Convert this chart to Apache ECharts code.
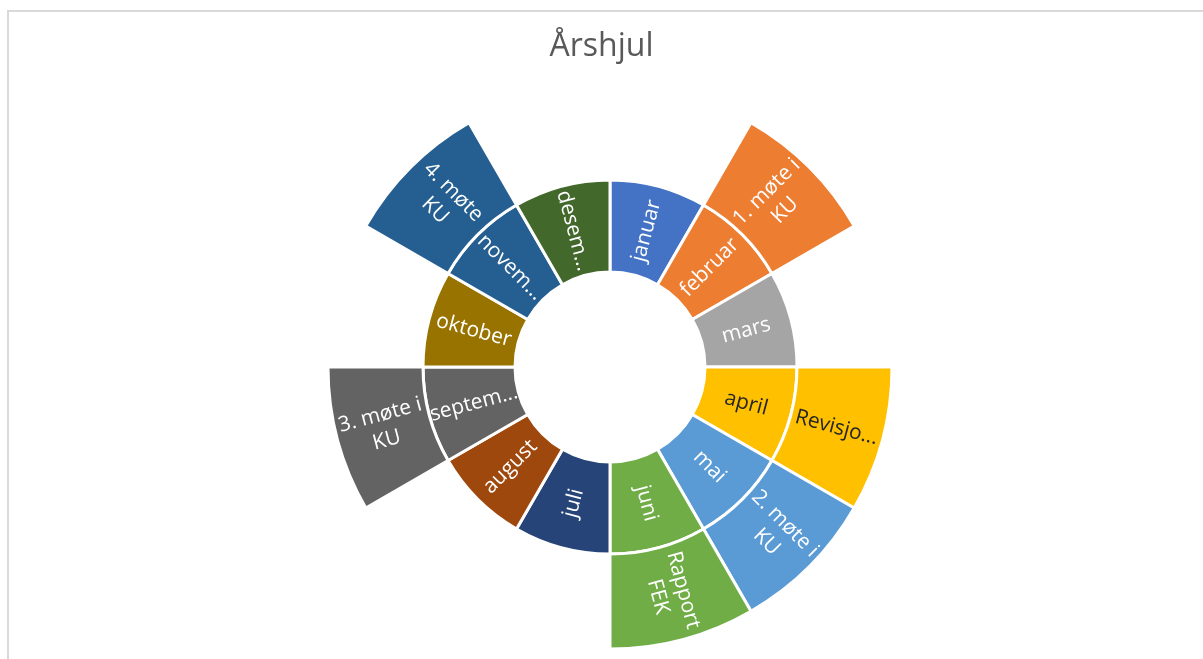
<!DOCTYPE html>
<html>
<head>
<meta charset="utf-8">
<script src="https://cdn.jsdelivr.net/npm/echarts@6/dist/echarts.min.js"></script>
<style>
  html, body { margin: 0; padding: 0; overflow: hidden; background: #fff; }
  #frame {
    position: absolute; left: 7px; top: 10px; width: 1400px; height: 900px;
    border: 2px solid #d9d9d9; box-sizing: border-box;
  }
  #chart { position: absolute; left: 0; top: 0; width: 1203px; height: 659px; }
</style>
</head>
<body>
<div id="frame"></div>
<div id="chart"></div>
<script>
// måneder (indre ring)
const months = ["januar", "februar", "mars", "april", "mai", "juni",
  "juli", "august", "september", "oktober", "november", "desember"];
// tekst slik den vises i figuren
const monthLabels = ["januar", "februar", "mars", "april", "mai", "juni",
  "juli", "august", "septem...", "oktober", "novem...", "desem..."];
const monthColors = ["#4472c4", "#ed7d31", "#a5a5a5", "#ffc000", "#5b9bd5", "#70ad47",
  "#264478", "#9e480e", "#636363", "#997300", "#255e91", "#43682b"];
const monthValues = [1, 1, 1, 1, 1, 1, 1, 1, 1, 1, 1, 1];

// hendelser (ytre ring), indeks = måned
const events = {
  1: "1. møte i KU",
  3: "Revisjon",
  4: "2. møte i KU",
  5: "Rapport FEK",
  8: "3. møte i KU",
  10: "4. møte i KU",
};
const eventLabels = {
  1: "1. møte i\nKU",
  3: "Revisjo...",
  4: "2. møte i\nKU",
  5: "Rapport\nFEK",
  8: "3. møte i\nKU",
  10: "4. møte\nKU",
};

const darkText = ["april", "Revisjon"];

const data = months.map((m, i) => {
  const item = {
    name: m,
    value: monthValues[i],
    itemStyle: { color: monthColors[i] },
    label: {
      formatter: monthLabels[i],
      color: darkText.includes(m) ? "#262626" : "#ffffff",
    },
  };
  if (events[i]) {
    item.children = [
      {
        name: events[i],
        value: monthValues[i],
        itemStyle: { color: monthColors[i] },
        label: {
          formatter: eventLabels[i],
          color: darkText.includes(events[i]) ? "#262626" : "#ffffff",
        },
      },
    ];
  }
  return item;
});

const myChart = echarts.init(document.getElementById("chart"));
const option = {
  backgroundColor: "transparent",
  animation: false,
  title: {
    text: "Årshjul",
    left: "center",
    top: 26,
    textStyle: {
      fontFamily: "Open Sans",
      fontSize: 32,
      fontWeight: 400,
      color: "#595959",
    },
  },
  series: [
    {
      type: "sunburst",
      center: [610, 367],
      startAngle: 90,
      sort: null,
      nodeClick: false,
      emphasis: { disabled: true },
      data: data,
      itemStyle: {
        borderColor: "#ffffff",
        borderWidth: 3,
      },
      label: {
        rotate: "radial",
        fontFamily: "Open Sans",
        fontSize: 21,
        lineHeight: 26,
        color: "#ffffff",
      },
      levels: [
        {},
        { r0: 95, r: 187 },
        { r0: 187, r: 282 },
      ],
    },
  ],
};
myChart.setOption(option);
</script>
</body>
</html>
